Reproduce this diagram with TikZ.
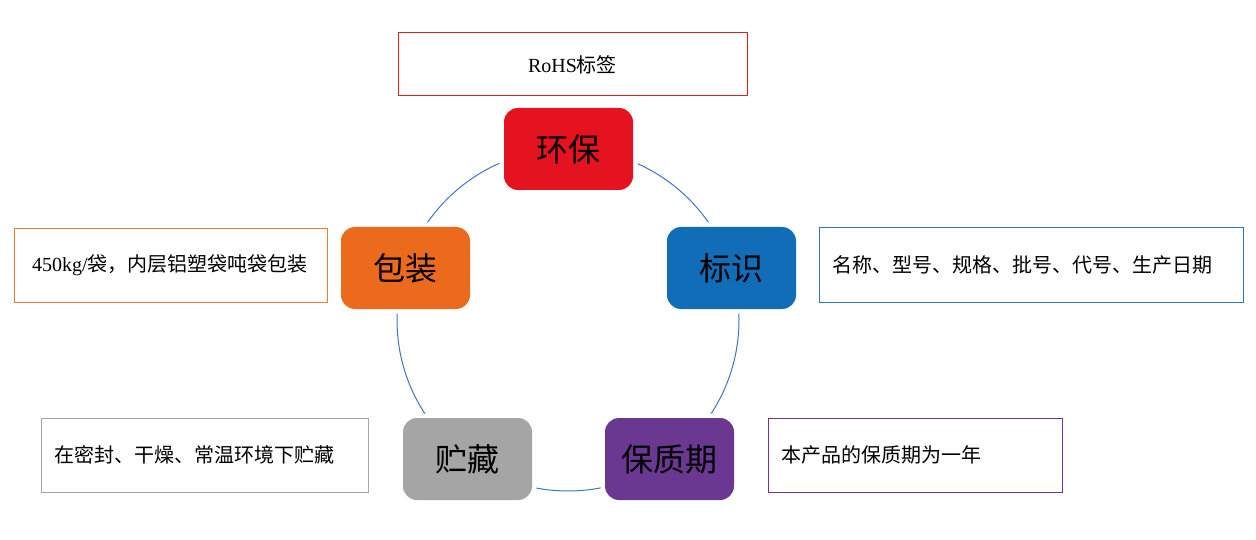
\documentclass[tikz,border=0pt]{standalone}
\usepackage{fontspec}
\setmainfont{Liberation Serif}
\newfontfamily\cjk{Noto Sans CJK SC}
\definecolor{cred}{HTML}{E5131F}
\definecolor{corange}{HTML}{EC6A1C}
\definecolor{cblue}{HTML}{116DB8}
\definecolor{cgray}{HTML}{A5A5A5}
\definecolor{cpurple}{HTML}{6B3891}
\definecolor{bred}{HTML}{E3211B}
\definecolor{borange}{HTML}{ED7D31}
\definecolor{bblue}{HTML}{2E75B6}
\definecolor{bgray}{HTML}{A5A5A5}
\definecolor{bpurple}{HTML}{7030A0}
\definecolor{ring}{HTML}{4472C4}
\begin{document}
\begin{tikzpicture}[x=1pt,y=-1pt,
  mainnode/.style={rounded corners=14pt, minimum width=129pt, minimum height=82pt,
    inner sep=0pt, font=\cjk\fontsize{32}{36}\selectfont, text=black,
    preaction={draw=white, line width=9pt}},
  infobox/.style={draw=#1, line width=1pt, inner xsep=13pt, inner ysep=0pt,
    align=left, font=\fontsize{20}{24}\selectfont}]
\useasboundingbox (0,0) rectangle (1256,540);
\draw[ring, line width=1pt] (568,320) circle (171);

\node[mainnode, fill=cred] (hb) at (568.5,149) {环保};
\node[mainnode, fill=cblue] (bs) at (731.5,268) {标识};
\node[mainnode, fill=cpurple] (bzq) at (669.5,459) {保质期};
\node[mainnode, fill=cgray] (zc) at (467.5,459) {贮藏};
\node[mainnode, fill=corange] (bz) at (405.5,268) {包装};

\node[infobox=bred, minimum width=349pt, minimum height=63pt, align=center] (t1) at (572.5,64.5) {RoHS{\cjk 标签}};
\node[infobox=borange, inner xsep=18pt, text width=277pt, minimum height=73pt] (t2) at (170.5,265.5) {450kg/{\cjk 袋，内层铝塑袋吨袋包装}};
\node[infobox=bblue, text width=398pt, minimum height=74pt] (t3) at (1031,265) {\cjk 名称、型号、规格、批号、代号、生产日期};
\node[infobox=bgray, text width=301pt, minimum height=74pt] (t4) at (204.5,455) {\cjk 在密封、干燥、常温环境下贮藏};
\node[infobox=bpurple, text width=268pt, minimum height=74pt] (t5) at (915,455) {\cjk 本产品的保质期为一年};
\end{tikzpicture}
\end{document}
